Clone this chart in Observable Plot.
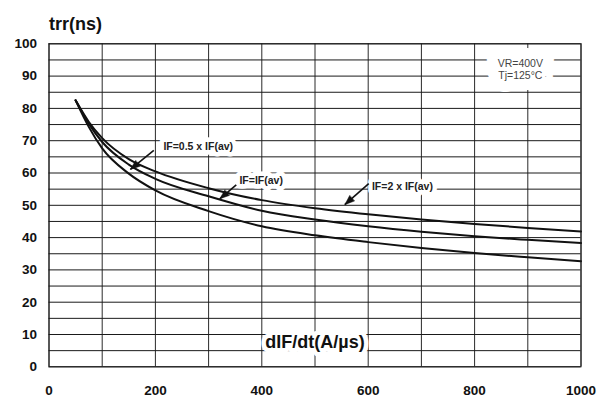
<!DOCTYPE html>
<html>
<head>
<meta charset="utf-8">
<script src="https://cdn.jsdelivr.net/npm/d3@7"></script>
<script src="https://cdn.jsdelivr.net/npm/@observablehq/plot@0.6"></script>
<style>
  html, body { margin: 0; padding: 0; background: #fff; }
  svg { display: block; }
</style>
</head>
<body>
<div id="chart"></div>
<script>
// dIF/dt (A/µs) sample points
const didt = [50, 75, 100, 150, 200, 300, 400, 500, 600, 700, 800, 900, 1000];
// trr (ns) for each curve
const trrHigh = [82.5, 75.8, 70.8, 64.3, 60.5, 55.3, 51.6, 49.1, 47.2, 45.6, 44.2, 43.0, 41.9];
const trrMid  = [82.5, 75.2, 69.6, 62.6, 58.2, 52.8, 48.3, 45.6, 43.5, 41.8, 40.4, 39.3, 38.3];
const trrLow  = [82.5, 74.2, 67.6, 59.8, 54.6, 48.2, 43.5, 40.7, 38.6, 36.8, 35.2, 33.9, 32.7];
const seriesNames = ["IF=2 x IF(av)", "IF=IF(av)", "IF=0.5 x IF(av)"];

const xTicks = [0, 200, 400, 600, 800, 1000];
const yTicks = [0, 10, 20, 30, 40, 50, 60, 70, 80, 90, 100];
const xGrid = [0, 100, 200, 300, 400, 500, 600, 700, 800, 900, 1000];
const yGrid = [0, 5, 10, 15, 20, 25, 30, 35, 40, 45, 50, 55, 60, 65, 70, 75, 80, 85, 90, 95, 100];

// annotation labels (data coordinates) and arrows
const labelTexts = ["IF=0.5 x IF(av)", "IF=IF(av)", "IF=2 x IF(av)"];
const labelX = [215, 358, 607];
const labelY = [68.1, 57.5, 55.9];
const arrowX1 = [197, 352, 601];
const arrowY1 = [67, 56.3, 56.7];
const arrowX2 = [153, 321, 556];
const arrowY2 = [61.1, 52, 50.2];

const conditionLines = ["VR=400V", "Tj=125°C"];
const conditionY = [93.8, 90.0];
const conditionX = 886;
const xTitle = "dIF/dt(A/µs)";
const yTitle = "trr(ns)";

const rows = [];
[trrHigh, trrMid, trrLow].forEach((vals, s) => {
  vals.forEach((v, i) => rows.push({series: seriesNames[s], x: didt[i], y: v}));
});
const labels = labelTexts.map((t, i) => ({text: t, x: labelX[i], y: labelY[i]}));
const arrows = arrowX1.map((_, i) => ({x1: arrowX1[i], y1: arrowY1[i], x2: arrowX2[i], y2: arrowY2[i]}));
const conds = conditionLines.map((t, i) => ({text: t, x: conditionX, y: conditionY[i]}));

const font = "'Liberation Sans', Arial, Helvetica, sans-serif";
const halo = {fill: "white", stroke: "white", strokeLinejoin: "round"};

const chart = Plot.plot({
  width: 608,
  height: 397,
  marginLeft: 48.5,
  marginRight: 27.5,
  marginTop: 43.3,
  marginBottom: 30.7,
  style: {fontFamily: font, fontSize: "13.5px", fontWeight: "bold", color: "#111", background: "#fff"},
  x: {domain: [0, 1000], ticks: xTicks, tickSize: 0, tickPadding: 19, label: null, tickFormat: d => String(d)},
  y: {domain: [0, 100], ticks: yTicks, tickSize: 0, tickPadding: 12, label: null, tickFormat: d => String(d)},
  marks: [
    Plot.ruleX(xGrid, {stroke: "#2a2a2a", strokeWidth: 1}),
    Plot.ruleY(yGrid, {stroke: "#1a1a1a", strokeWidth: 1}),
    Plot.line(rows, {x: "x", y: "y", z: "series", curve: "monotone-x", stroke: "#111", strokeWidth: 2}),
    // white backgrounds
    Plot.text(conds, {x: "x", y: "y", text: "text", fontSize: 10.5, fontWeight: "normal", textAnchor: "middle", strokeWidth: 22, ...halo}),
    Plot.text([xTitle], {x: 500, y: 7.7, text: d => d, fontSize: 18, fontWeight: "bold", textAnchor: "middle", strokeWidth: 9, ...halo}),
    Plot.text(labels, {x: "x", y: "y", text: "text", fontSize: 10.5, fontWeight: "bold", textAnchor: "start", strokeWidth: 9, ...halo}),
    // texts
    Plot.text(conds, {x: "x", y: "y", text: "text", fontSize: 10.5, fontWeight: "normal", fill: "#444", textAnchor: "middle"}),
    Plot.text([xTitle], {x: 500, y: 7.7, text: d => d, fontSize: 18, fontWeight: "bold", fill: "#111", textAnchor: "middle"}),
    Plot.text(labels, {x: "x", y: "y", text: "text", fontSize: 10.5, fontWeight: "bold", fill: "#222", textAnchor: "start"}),
    Plot.link(arrows, {x1: "x1", y1: "y1", x2: "x2", y2: "y2", stroke: "#111", strokeWidth: 1.6, markerEnd: "arrow"}),
    Plot.text([yTitle], {frameAnchor: "top-left", lineAnchor: "middle", text: d => d, dy: -19.6, textAnchor: "start", fontSize: 18, fontWeight: "bold", fill: "#111"}),
    Plot.frame({stroke: "#1a1a1a", strokeWidth: 1})
  ]
});
// turn the open arrow markers into filled heads
chart.querySelectorAll("marker").forEach(m => {
  m.setAttribute("overflow", "visible");
  const c = m.getAttribute("stroke") || "#111";
  m.setAttribute("fill", c);
  m.setAttribute("stroke-width", "0.4");
  const p = m.querySelector("path");
  if (p) p.setAttribute("d", "M-9,-3.4L0,0L-9,3.4Z");
});
document.getElementById("chart").appendChild(chart);
</script>
</body>
</html>
